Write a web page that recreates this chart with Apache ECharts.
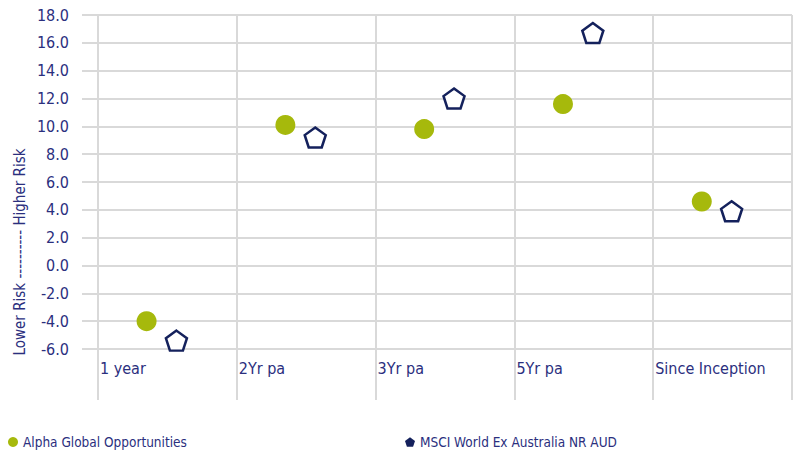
<!DOCTYPE html>
<html>
<head>
<meta charset="utf-8">
<script src="https://cdn.jsdelivr.net/npm/echarts@6/dist/echarts.min.js"></script>
<style>
html,body{margin:0;padding:0;background:#fff;}
#c{width:797px;height:451px;}
</style>
</head>
<body>
<div id="c"></div>
<script>
var categories = ['1 year', '2Yr pa', '3Yr pa', '5Yr pa', 'Since Inception'];
var alphaValues = [-4.0, 10.1, 9.8, 11.6, 4.6];
var msciValues = [-5.4, 9.2, 12.0, 16.7, 3.9];
var yTickMin = -6, yTickMax = 18, yTickStep = 2;
var seriesNames = ['Alpha Global Opportunities', 'MSCI World Ex Australia NR AUD'];
var yAxisTitle = 'Lower Risk ---------- Higher Risk';

var FONT = "'Liberation Sans Narrow','DejaVu Sans Condensed',sans-serif";
var TXT = '#2b2f7e';
var GRID = '#d9d9d9';
var GREEN = '#a6b90c';
var NAVY = '#14215c';
var PENT = 'path://M0,-1 L0.951,-0.309 L0.588,0.809 L-0.588,0.809 L-0.951,-0.309 Z';
var OFF_A = 0.35, OFF_M = 0.565;

var chart = echarts.init(document.getElementById('c'), null, {renderer: 'svg'});
chart.setOption({
  animation: false,
  backgroundColor: '#fff',
  textStyle: {fontFamily: FONT},
  grid: [
    {left: 98, right: 5, top: 15, height: 334},
    {left: 98, right: 5, top: 349, height: 51}
  ],
  xAxis: [
    {
      gridIndex: 0, type: 'value', min: 0, max: categories.length, interval: 1,
      axisLine: {show: false}, axisTick: {show: false},
      splitLine: {show: true, lineStyle: {color: GRID, width: 2}},
      axisLabel: {
        show: true, align: 'left', margin: 11, padding: [0, 0, 0, 2],
        color: TXT, fontFamily: FONT, fontSize: 16,
        formatter: function (v) { return categories[v] !== undefined ? categories[v] : ''; }
      }
    },
    {
      gridIndex: 1, type: 'value', min: 0, max: categories.length, interval: 1,
      axisLine: {show: false}, axisTick: {show: false}, axisLabel: {show: false},
      splitLine: {show: true, lineStyle: {color: GRID, width: 2}}
    }
  ],
  yAxis: [
    {
      gridIndex: 0, type: 'value', min: yTickMin, max: yTickMax, interval: yTickStep,
      axisLine: {show: false},
      axisTick: {show: true, length: 16, lineStyle: {color: GRID, width: 2}},
      splitLine: {show: true, lineStyle: {color: GRID, width: 2}},
      axisLabel: {
        margin: 29, color: TXT, fontFamily: FONT, fontSize: 16,
        formatter: function (v) { return v.toFixed(1); }
      }
    },
    {
      gridIndex: 1, type: 'value', min: 0, max: 1,
      axisLine: {show: false}, axisTick: {show: false}, axisLabel: {show: false},
      splitLine: {show: false}
    }
  ],
  legend: [
    {
      left: 3, top: 430, itemWidth: 10, itemHeight: 10, itemGap: 3,
      textStyle: {color: TXT, fontFamily: FONT, fontSize: 13.5},
      data: [{name: seriesNames[0], icon: 'circle', itemStyle: {color: GREEN, borderWidth: 0}}]
    },
    {
      left: 400, top: 430, itemWidth: 10, itemHeight: 10, itemGap: 3,
      textStyle: {color: TXT, fontFamily: FONT, fontSize: 13.5},
      data: [{name: seriesNames[1], icon: PENT, itemStyle: {color: NAVY, borderWidth: 0}}]
    }
  ],
  graphic: [{
    type: 'text', x: 20, y: 252, rotation: Math.PI / 2,
    style: {
      text: yAxisTitle, fill: TXT, font: '15px ' + FONT,
      textAlign: 'center', textVerticalAlign: 'middle'
    }
  }],
  series: [
    {
      name: seriesNames[0], type: 'scatter', xAxisIndex: 0, yAxisIndex: 0,
      symbol: 'circle', symbolSize: 20,
      itemStyle: {color: GREEN, opacity: 1},
      data: alphaValues.map(function (v, i) { return [i + OFF_A, v]; })
    },
    {
      name: seriesNames[1], type: 'scatter', xAxisIndex: 0, yAxisIndex: 0,
      symbol: PENT, symbolSize: [21, 20],
      itemStyle: {color: '#ffffff', borderColor: NAVY, borderWidth: 2.5, opacity: 1},
      data: msciValues.map(function (v, i) { return [i + OFF_M, v]; })
    }
  ]
});
</script>
</body>
</html>
